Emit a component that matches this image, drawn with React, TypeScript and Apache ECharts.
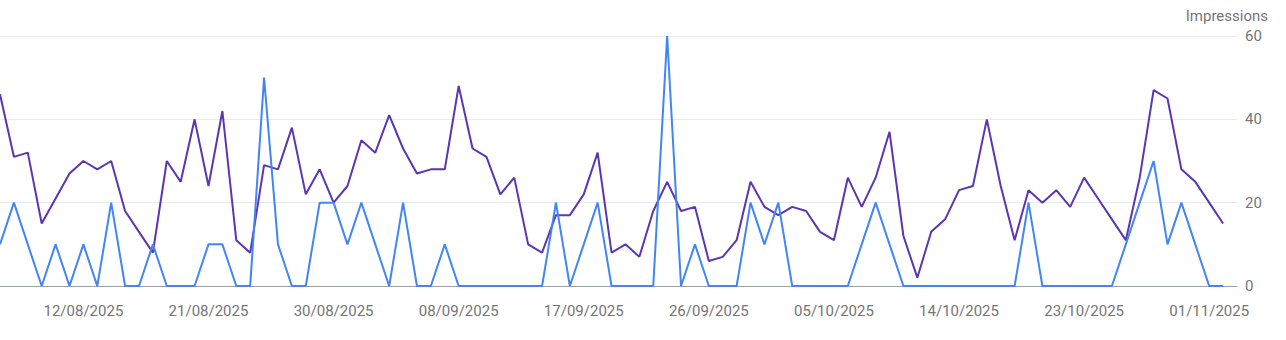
import React, { useEffect, useRef } from "react";
import * as echarts from "echarts";

// Daily dates: 06/08/2025 .. 03/11/2025 (last one is the axis end, no data)
const startDate = { year: 2025, month: 8, day: 6 };
const dayCount = 90;
const dates: string[] = [];
for (let i = 0; i < dayCount; i++) {
  const d = new Date(Date.UTC(startDate.year, startDate.month - 1, startDate.day + i));
  const dd = String(d.getUTCDate()).padStart(2, "0");
  const mm = String(d.getUTCMonth() + 1).padStart(2, "0");
  dates.push(`${dd}/${mm}/${d.getUTCFullYear()}`);
}

const purpleSeries = [
  46, 31, 32, 15, 21, 27, 30, 28, 30, 18,
  13, 8, 30, 25, 40, 24, 42, 11, 8, 29,
  28, 38, 22, 28, 20, 24, 35, 32, 41, 33,
  27, 28, 28, 48, 33, 31, 22, 26, 10, 8,
  17, 17, 22, 32, 8, 10, 7, 18, 25, 18,
  19, 6, 7, 11, 25, 19, 17, 19, 18, 13,
  11, 26, 19, 26, 37, 12, 2, 13, 16, 23,
  24, 40, 24, 11, 23, 20, 23, 19, 26, 21,
  16, 11, 26, 47, 45, 28, 25, 20, 15,
];

const blueSeries = [
  10, 20, 10, 0, 10, 0, 10, 0, 20, 0,
  0, 10, 0, 0, 0, 10, 10, 0, 0, 50,
  10, 0, 0, 20, 20, 10, 20, 10, 0, 20,
  0, 0, 10, 0, 0, 0, 0, 0, 0, 0,
  20, 0, 10, 20, 0, 0, 0, 0, 60, 0,
  10, 0, 0, 0, 20, 10, 20, 0, 0, 0,
  0, 0, 10, 20, 10, 0, 0, 0, 0, 0,
  0, 0, 0, 0, 20, 0, 0, 0, 0, 0,
  0, 10, 20, 30, 10, 20, 10, 0, 0,
];

const yTicks = [0, 20, 40, 60];
const axisTitle = "Impressions";
const firstLabelIndex = 6;
const labelStep = 9;

const textColor = "#757575";
const fontFamily = "Roboto, 'Noto Sans', sans-serif";

export default function App() {
  const ref = useRef<HTMLDivElement>(null);
  useEffect(() => {
    if (!ref.current) return;
    const chart = echarts.init(ref.current, null, { renderer: "svg" });
    chart.setOption({
      animation: false,
      title: {
        text: axisTitle,
        right: 13,
        top: 3,
        textStyle: { color: textColor, fontSize: 15, fontWeight: "normal", fontFamily },
      },
      grid: { left: -1, right: 49, top: 36, bottom: 54, containLabel: false },
      xAxis: {
        type: "category",
        data: dates,
        boundaryGap: false,
        axisLine: { show: true, lineStyle: { color: "#9aa0a6", width: 1 } },
        axisTick: { show: false },
        splitLine: { show: false },
        axisLabel: {
          interval: (idx: number) => idx >= firstLabelIndex && (idx - firstLabelIndex) % labelStep === 0,
          color: textColor,
          fontSize: 15,
          fontFamily,
          margin: 17,
        },
      },
      yAxis: {
        type: "value",
        position: "right",
        min: yTicks[0],
        max: yTicks[yTicks.length - 1],
        interval: yTicks[1] - yTicks[0],
        axisLine: { show: false },
        axisTick: { show: false },
        splitLine: { show: true, lineStyle: { color: "#e8eaed", width: 1 } },
        axisLabel: { color: textColor, fontSize: 15, fontFamily, margin: 8 },
      },
      series: [
        {
          type: "line",
          data: purpleSeries,
          showSymbol: false,
          symbol: "none",
          lineStyle: { color: "#5e35b1", width: 2 },
          itemStyle: { color: "#5e35b1" },
        },
        {
          type: "line",
          data: blueSeries,
          showSymbol: false,
          symbol: "none",
          lineStyle: { color: "#4285f4", width: 2 },
          itemStyle: { color: "#4285f4" },
        },
      ],
    });
    return () => chart.dispose();
  }, []);
  return (
    <div
      ref={ref}
      style={{ position: "absolute", left: 0, top: 0, width: 1286, height: 340, background: "#fff" }}
    />
  );
}
